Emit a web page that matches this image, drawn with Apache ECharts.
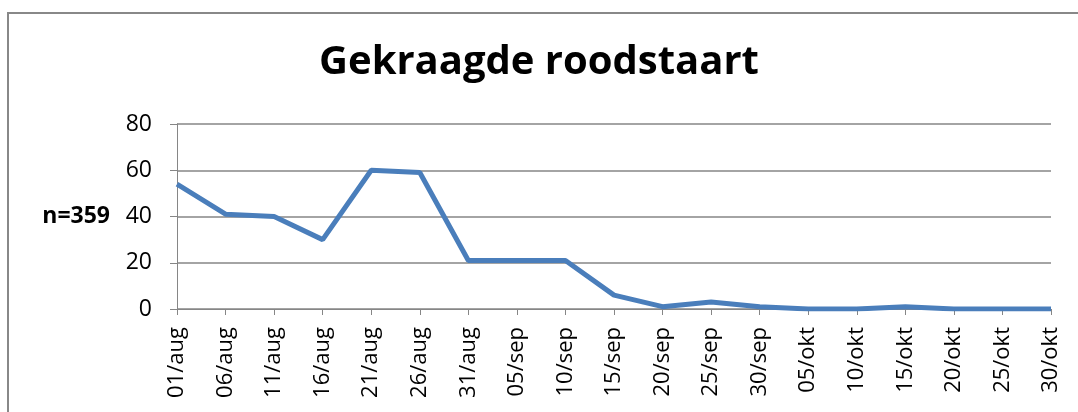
<!DOCTYPE html>
<html>
<head>
<meta charset="utf-8">
<script src="https://cdn.jsdelivr.net/npm/echarts@6/dist/echarts.min.js"></script>
<style>
  html, body { margin: 0; padding: 0; background: #fff; }
  #chart { width: 1078px; height: 412px; }
</style>
</head>
<body>
<div id="chart"></div>
<script>
var chartTitle = 'Gekraagde roodstaart';
var yName = 'n=359';
var dates = ['01/aug', '06/aug', '11/aug', '16/aug', '21/aug', '26/aug', '31/aug',
  '05/sep', '10/sep', '15/sep', '20/sep', '25/sep', '30/sep',
  '05/okt', '10/okt', '15/okt', '20/okt', '25/okt', '30/okt'];
var counts = [54, 41, 40, 30, 60, 59, 21, 21, 21, 6, 1, 3, 1, 0, 0, 1, 0, 0, 0];

var font = 'Open Sans';
var chart = document.getElementById('chart');
var myChart = echarts.init(chart);

option = {
  animation: false,
  backgroundColor: '#fff',
  title: {
    text: chartTitle,
    left: 'center',
    top: 38,
    textStyle: { fontFamily: font, fontSize: 40, fontWeight: 'bold', color: '#000' }
  },
  graphic: [
    {
      type: 'polyline',
      shape: { points: [[8, 412], [8, 13], [1078, 13]] },
      style: { stroke: '#888', lineWidth: 2, fill: null }
    }
  ],
  grid: { left: 177, right: 27, top: 124, bottom: 103 },
  xAxis: {
    type: 'category',
    data: dates,
    boundaryGap: false,
    axisLine: { lineStyle: { color: '#868686', width: 1 } },
    axisTick: { alignWithLabel: true, length: 6, lineStyle: { color: '#868686' } },
    axisLabel: {
      rotate: 90, interval: 0, margin: 18,
      fontFamily: font, fontSize: 22, color: '#000'
    }
  },
  yAxis: {
    type: 'value',
    min: 0, max: 80, interval: 20,
    name: yName,
    nameLocation: 'middle',
    nameRotate: 0,
    nameGap: 67,
    nameTextStyle: { fontFamily: font, fontSize: 23, fontWeight: 'bold', color: '#000' },
    axisLine: { show: true, lineStyle: { color: '#868686', width: 1 } },
    axisTick: { show: true, length: 7, lineStyle: { color: '#868686' } },
    axisLabel: { fontFamily: font, fontSize: 23, color: '#000', margin: 25 },
    splitLine: { lineStyle: { color: '#868686', width: 1.5 } }
  },
  series: [
    {
      type: 'line',
      data: counts,
      symbol: 'none',
      lineStyle: { color: '#4a7ebb', width: 5 }
    }
  ]
};

myChart.setOption(option);
</script>
</body>
</html>
